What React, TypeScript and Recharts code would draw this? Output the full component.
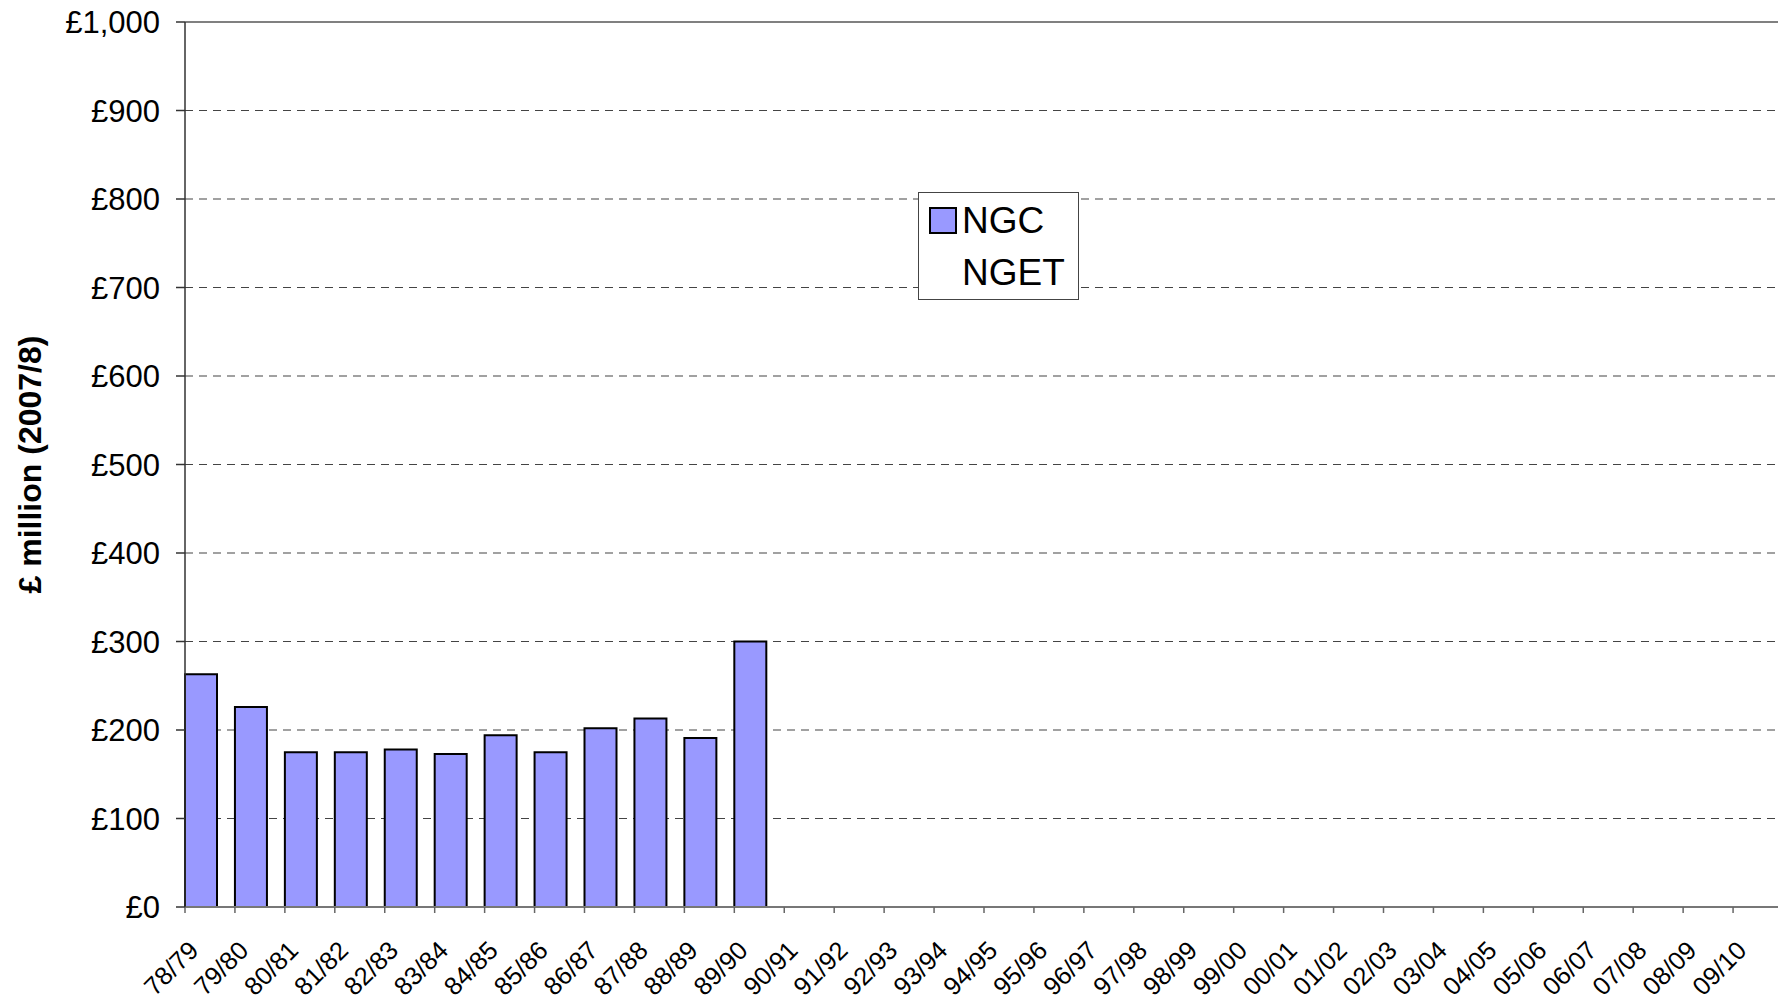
import { BarChart, Bar, XAxis, YAxis, CartesianGrid, Legend, ReferenceLine } from 'recharts'

const years = [
  '78/79', '79/80', '80/81', '81/82', '82/83', '83/84', '84/85', '85/86',
  '86/87', '87/88', '88/89', '89/90', '90/91', '91/92', '92/93', '93/94',
  '94/95', '95/96', '96/97', '97/98', '98/99', '99/00', '00/01', '01/02',
  '02/03', '03/04', '04/05', '05/06', '06/07', '07/08', '08/09', '09/10',
]
// NGC only has values up to 89/90, NGET has nothing drawn in this view
const ngcValues = [263, 226, 175, 175, 178, 173, 194, 175, 202, 213, 191, 300]
const ngetValues: number[] = []
const yTicks = [0, 100, 200, 300, 400, 500, 600, 700, 800, 900, 1000]

const data = years.map((year, i) => ({
  year,
  NGC: ngcValues[i] ?? null,
  NGET: ngetValues[i] ?? null,
}))

const FONT = '"Liberation Sans", Arial, sans-serif'

const formatPound = (v: number) => '£' + v.toLocaleString('en-GB')

// tick mark sits on the category boundary, label rotated under the category
const XTick = ({ x, y, payload }: any) => {
  const half = payload?.offset ?? 25
  const lx = x - 10
  const ly = y + 45
  return (
    <g>
      <line x1={x - half} y1={y} x2={x - half} y2={y + 6} stroke="#666" strokeWidth={1.5} />
      <text
        x={lx}
        y={ly}
        textAnchor="end"
        transform={`rotate(-45 ${lx} ${ly})`}
        fontSize={25.5}
        fontFamily={FONT}
        fill="#000"
      >
        {payload.value}
      </text>
    </g>
  )
}

const YTitle = ({ viewBox }: any) => {
  const cx = viewBox.x + 30
  const cy = viewBox.y + viewBox.height / 2
  return (
    <text
      x={cx}
      y={cy}
      textAnchor="middle"
      dominantBaseline="central"
      transform={`rotate(-90 ${cx} ${cy})`}
      fontSize={32}
      fontWeight="bold"
      fontFamily={FONT}
      fill="#000"
    >
      £ million (2007/8)
    </text>
  )
}

const LegendBox = ({ payload }: any) => (
  <svg width={161} height={108} style={{ display: 'block' }}>
    <rect x={0.5} y={0.5} width={160} height={107} fill="#fff" stroke="#444" strokeWidth={1} />
    {(payload || []).map((entry: any, i: number) => (
      <g key={`legend-${i}`}>
        {entry.color && entry.color !== 'none' && (
          <rect x={12} y={16 + i * 52} width={26} height={25} fill={entry.color} stroke="#000" strokeWidth={2} />
        )}
        <text x={44} y={41 + i * 52} fontSize={37} fontFamily={FONT} fill="#000">
          {entry.value}
        </text>
      </g>
    ))}
  </svg>
)

export default function App() {
  return (
    <div
      style={{
        position: 'absolute',
        left: 0,
        top: 0,
        width: 1778,
        height: 1000,
        overflow: 'hidden',
        background: '#fff',
      }}
    >
      <BarChart
        width={1790}
        height={1000}
        data={data}
        margin={{ top: 22, right: 7, bottom: 0, left: 0 }}
        barGap={0}
        barCategoryGap={0}
      >
        <CartesianGrid vertical={false} stroke="#444" strokeWidth={1.2} strokeDasharray="8 6" />
        <XAxis
          dataKey="year"
          height={93}
          interval={0}
          tickSize={0}
          tickMargin={0}
          tickLine={false}
          tick={<XTick />}
          axisLine={{ stroke: '#777', strokeWidth: 2 }}
        />
        <YAxis
          width={185}
          domain={[0, 1000]}
          ticks={yTicks}
          interval={0}
          tickFormatter={formatPound}
          tickSize={9}
          tickMargin={16}
          tick={{ fontSize: 31, fontFamily: FONT, fill: '#000' }}
          tickLine={{ stroke: '#333', strokeWidth: 1.5 }}
          axisLine={{ stroke: '#333', strokeWidth: 1.5 }}
          label={<YTitle />}
        />
        <ReferenceLine y={1000} stroke="#808080" strokeWidth={2} />
        <Legend
          layout="vertical"
          align="center"
          verticalAlign="middle"
          content={<LegendBox />}
          wrapperStyle={{ position: 'absolute', left: 918, top: 192, width: 161, height: 108 }}
        />
        <Bar dataKey="NGC" fill="#9999FF" stroke="#000" strokeWidth={2} barSize={32} isAnimationActive={false} />
        <Bar dataKey="NGET" fill="none" stroke="none" barSize={17} isAnimationActive={false} />
      </BarChart>
    </div>
  )
}
